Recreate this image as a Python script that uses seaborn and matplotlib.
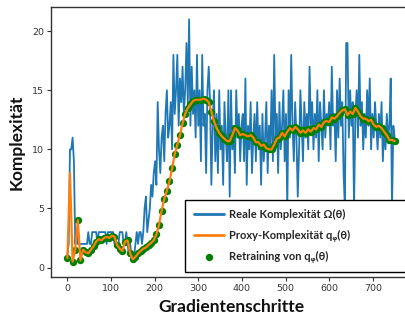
import numpy as np
import pandas as pd
import matplotlib
matplotlib.use("Agg")
import matplotlib.pyplot as plt
import seaborn as sns

# Real complexity Omega(theta), logged every 3 gradient steps
real_complexity = [
    1, 2, 10, 10, 11, 9, 2, 3, 2, 2, 2,
    2, 2, 2, 2, 2, 3, 2, 2, 3, 3,
    3, 3, 2, 3, 3, 3, 3, 3, 3, 2,
    3, 3, 3, 3, 3, 2, 2, 2, 2, 3,
    3, 3, 2, 2, 3, 2, 1, 2, 1, 1,
    1, 2, 3, 2, 3, 3, 2, 3, 5, 6, 3, 4, 5, 7, 6, 8, 9, 7, 14,
    10, 8, 11, 12, 9, 13, 15, 11, 12, 14,
    10, 18, 13, 15, 18, 12, 16, 14, 17, 13,
    15, 19, 14, 21, 12, 17, 13, 15, 11, 18,
    12,
    15, 9, 18, 12, 13, 8, 15, 17, 14, 7,
    12, 15, 9, 13, 8, 15, 10, 12, 7, 14,
    11, 9, 15, 6, 15, 10, 12, 8, 15, 11,
    13, 9, 12,
    13, 9, 16, 7, 12, 10, 14, 8, 11, 13,
    9, 14, 10, 12, 7, 13, 9, 11, 14, 8,
    12, 10, 15, 9, 18, 11, 13, 8, 14, 10,
    12, 15, 9,
    13, 5, 15, 11, 18, 12, 9, 14, 11, 6,
    10, 15, 12, 9, 14, 11, 13, 10, 17, 12,
    14, 10, 13, 11, 15, 9, 14, 12, 10, 15,
    11, 13, 12,
    14, 10, 17, 12, 13, 9, 15, 11, 16, 12,
    14, 8, 5, 19, 19, 11, 15, 12, 14, 5,
    13, 15, 11, 18, 12, 14, 10, 13, 11, 15,
    12, 16, 10, 13,
    11, 14, 12, 10, 13, 11, 14, 9, 12, 10,
    13, 11, 12, 16, 5, 12, 11,
]
REAL_EVERY = 3

# Proxy complexity q_phi(theta), logged every 6 gradient steps
proxy_complexity = [
    0.8, 8.0, 0.5, 1.5, 4.0, 0.6, 1.5, 1.3, 1.2, 1.5,
    1.8, 2.2, 2.4, 2.3, 2.5, 2.6, 2.5, 2.7, 2.6, 1.9,
    1.6, 1.4, 2.2, 2.3, 1.2, 0.7, 0.9, 1.2, 1.4, 1.6,
    1.7, 1.9, 2.1, 2.3, 2.8, 3.6, 4.8, 5.8, 6.5, 7.3,
    8.4, 9.6, 10.4, 11.2, 12.2, 13.0, 13.5, 13.8, 14.1, 14.2,
    14.2, 14.2, 14.3, 14.2, 14.0, 13.2, 12.4, 11.8, 11.4, 11.1,
    10.9, 10.7, 10.7, 11.2, 11.8, 11.6, 11.2, 11.3, 11.2, 11.1,
    11.2, 11.0, 10.6, 10.6, 10.3, 10.4, 10.1, 10.0, 10.0, 10.4,
    10.9, 11.0, 11.4, 11.1, 11.5, 11.8, 11.6, 11.9, 11.7, 11.4,
    11.6, 11.4, 11.7, 11.5, 11.8, 11.7, 12.1, 11.9, 12.3, 12.4,
    12.3, 12.7, 12.6, 12.8, 13.1, 13.3, 13.4, 12.9, 13.2, 13.0,
    13.5, 13.2, 12.8, 12.6, 12.6, 12.4, 12.5, 12.1, 11.9, 12.0,
    11.8, 11.5, 11.2, 10.8, 10.8, 10.7,
]
PROXY_EVERY = 6

x_ticks = [0, 100, 200, 300, 400, 500, 600, 700]
y_ticks = [0, 5, 10, 15, 20]

real_df = pd.DataFrame({
    "step": np.arange(len(real_complexity)) * REAL_EVERY,
    "value": real_complexity,
})
proxy_df = pd.DataFrame({
    "step": np.arange(len(proxy_complexity)) * PROXY_EVERY,
    "value": proxy_complexity,
})
# the proxy is retrained at every logged step except the early spike
retrain_df = proxy_df[proxy_df["step"] != 6]

sns.set_style("white")
plt.rcParams["font.family"] = ["Lato", "DejaVu Sans"]

fig = plt.figure(figsize=(4.06, 3.20), dpi=100)
ax = fig.add_axes([51 / 406, 43 / 320, 360 / 406, 270 / 320])

sns.lineplot(data=real_df, x="step", y="value", ax=ax, color="#1f77b4",
             linewidth=1.3, label="Reale Komplexität Ω(θ)")
sns.scatterplot(data=retrain_df, x="step", y="value", ax=ax, color="green",
                s=28, linewidth=0, zorder=3, label="Retraining von qᵩ(θ)")
sns.lineplot(data=proxy_df, x="step", y="value", ax=ax, color="#ff7f0e",
             linewidth=1.6, zorder=4, label="Proxy-Komplexität qᵩ(θ)")

ax.set_xlim(-37.5, 787.5)
ax.set_ylim(-0.8, 22.05)
ax.set_xticks(x_ticks)
ax.set_yticks(y_ticks)
ax.tick_params(axis="both", which="major", direction="out", length=3,
               width=0.8, color="#333333", labelsize=6.8, labelcolor="#333333",
               left=True, bottom=True, pad=2)
for lbl in ax.get_xticklabels() + ax.get_yticklabels():
    lbl.set_family("DejaVu Sans")
for side in ["left", "bottom", "top", "right"]:
    ax.spines[side].set_color("#333333")
    ax.spines[side].set_linewidth(1.0)

ax.set_xlabel("Gradientenschritte", fontsize=12.5, fontweight="bold",
              color="#111111", labelpad=4)
ax.set_ylabel("Komplexität", fontsize=12.5, fontweight="bold",
              color="#111111", labelpad=5)

handles, labels = ax.get_legend_handles_labels()
order = [0, 2, 1]
leg = ax.legend([handles[i] for i in order], [labels[i] for i in order],
                loc="lower left", mode="expand",
                bbox_to_anchor=(185 / 406, 48 / 320, 240 / 406, 77 / 320),
                bbox_transform=fig.transFigure, borderaxespad=0,
                fancybox=False, framealpha=1, edgecolor="black",
                handlelength=2.7, handletextpad=0.5, labelspacing=0.85,
                borderpad=0.8, prop={"weight": "bold", "size": 8})
leg.get_frame().set_linewidth(1.0)
leg.legend_handles[0].set_linewidth(2.0)
leg.legend_handles[1].set_linewidth(2.0)

fig.savefig("out.png", dpi=100)
